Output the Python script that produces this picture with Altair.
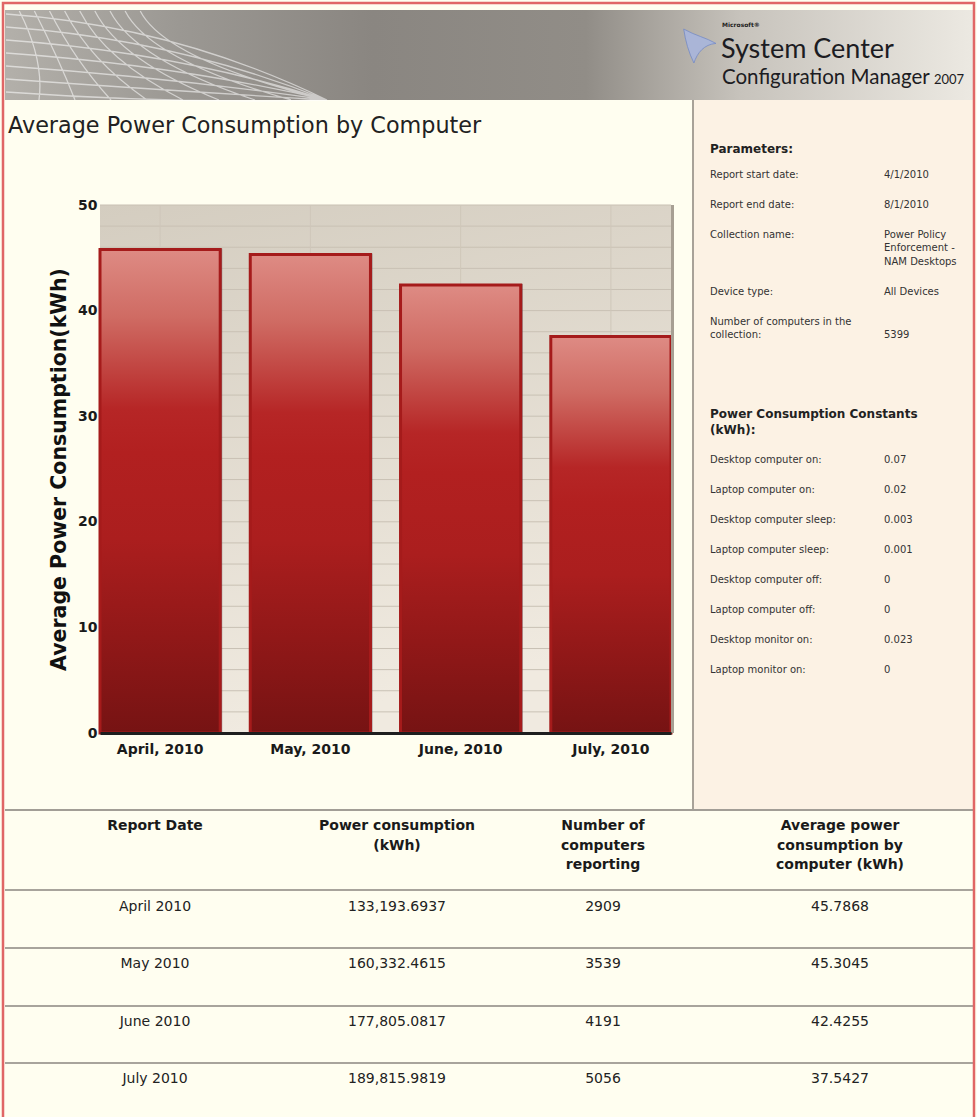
import altair as alt
import pandas as pd

# ---------------- data ----------------
months = ["April, 2010", "May, 2010", "June, 2010", "July, 2010"]
avg_kwh = [45.7868, 45.3045, 42.4255, 37.5427]

table_headers = ["Report Date", "Power consumption\n(kWh)", "Number of\ncomputers\nreporting",
                 "Average power\nconsumption by\ncomputer (kWh)"]
report_dates = ["April 2010", "May 2010", "June 2010", "July 2010"]
power_kwh = ["133,193.6937", "160,332.4615", "177,805.0817", "189,815.9819"]
computers = ["2909", "3539", "4191", "5056"]
avg_kwh_text = ["45.7868", "45.3045", "42.4255", "37.5427"]

param_labels = ["Report start date:", "Report end date:", "Collection name:", "Device type:",
                "Number of computers in the\ncollection:"]
param_values = ["4/1/2010", "8/1/2010", "Power Policy\nEnforcement -\nNAM Desktops", "All Devices", "\n5399"]
const_labels = ["Desktop computer on:", "Laptop computer on:", "Desktop computer sleep:",
                "Laptop computer sleep:", "Desktop computer off:", "Laptop computer off:",
                "Desktop monitor on:", "Laptop monitor on:"]
const_values = ["0.07", "0.02", "0.003", "0.001", "0", "0", "0.023", "0"]

# ---------------- layout ----------------
W, H = 977, 1117
PL, PT, PW, PH = 100, 205, 571, 528
FONT = "DejaVu Sans"
one = pd.DataFrame({"k": [0]})


def px(x):
    return x - PL


def py(y):
    return y - PT


def rect(x0, y0, x1, y1, **kw):
    return alt.Chart(one).mark_rect(**kw).encode(
        x=alt.value(px(x0)), x2=alt.value(px(x1)), y=alt.value(py(y0)), y2=alt.value(py(y1)))


def text(s, x, y, **kw):
    return alt.Chart(one).mark_text(text=s, **kw).encode(x=alt.value(px(x)), y=alt.value(py(y)))


def glyph(path, cx, cy, span, **kw):
    return alt.Chart(one).mark_point(shape=path, size=span * span, **kw).encode(
        x=alt.value(px(cx)), y=alt.value(py(cy)))


# decorative wire mesh of the banner (drawn as one symbol path)
MW, MH = 325.0, 90.0


def _u(a, b):
    return f"{(a - MW / 2) / (MW / 2):.4f} {(b - MH / 2) / (MW / 2):.4f}"


_mesh = []
for k in range(9):
    xb = 322 - 36 * k
    xe = max(xb * 0.42, 2)
    _mesh.append(f"M {_u(xb, 90)} Q {_u(xe + 25, 50)} {_u(xe, 1)}")
for j in range(7):
    y0 = 4 + 13 * j
    _mesh.append(f"M {_u(1, y0)} Q {_u(170, y0 + 12)} {_u(322, 90)}")
MESH = " ".join(_mesh)
ICON = "M -0.9 -1 C -0.2 -0.6 0.4 -0.5 1 -0.15 C 0.3 -0.1 -0.1 0.4 -0.3 1 C -0.6 0.4 -0.8 -0.3 -0.9 -1 Z"

header_grad = {"gradient": "linear", "x1": 0, "y1": 0, "x2": 1, "y2": 0,
               "stops": [{"offset": 0, "color": "#b3b0aa"}, {"offset": 0.18, "color": "#9b9893"},
                         {"offset": 0.38, "color": "#8a8681"}, {"offset": 0.6, "color": "#918d87"},
                         {"offset": 0.76, "color": "#c7c3bc"}, {"offset": 1, "color": "#ece9e2"}]}
plot_grad = {"gradient": "linear", "x1": 0, "y1": 0, "x2": 0.25, "y2": 1,
             "stops": [{"offset": 0, "color": "#d4cdc0"}, {"offset": 1, "color": "#f0eae0"}]}
bar_grad = {"gradient": "linear", "x1": 0, "y1": 0, "x2": 0, "y2": 1,
            "stops": [{"offset": 0, "color": "#de8b84"}, {"offset": 0.14, "color": "#cf6b63"},
                      {"offset": 0.33, "color": "#b62626"}, {"offset": 0.42, "color": "#b22020"},
                      {"offset": 0.6, "color": "#ab1e1e"}, {"offset": 0.8, "color": "#911818"},
                      {"offset": 1, "color": "#761313"}]}

# ---------------- page decoration ----------------
decor = [
    rect(5, 10, 973, 100, fill=header_grad),
    glyph(MESH, 5 + MW / 2, 10 + MH / 2, MW, filled=False, stroke="#ffffff", strokeWidth=1.3, opacity=0.55),
    rect(694, 100, 973, 809, fill="#fcf2e4"),
    rect(692, 100, 694, 809, fill="#a8a298"),
    rect(5, 809, 973, 811, fill="#a29e96"),
    rect(5, 889, 973, 891, fill="#a8a49c"),
    rect(5, 947, 973, 949, fill="#a8a49c"),
    rect(5, 1005, 973, 1007, fill="#a8a49c"),
    rect(5, 1062, 973, 1064, fill="#a8a49c"),
    rect(3, 3, 974, 1140, filled=False, stroke="#e06666", strokeWidth=2.5),
    glyph(ICON, 699, 46, 34, filled=True, fill="#a9b6dc", stroke="#6f86c8", strokeWidth=0.8, opacity=0.9),
    text("Microsoft®", 722, 25, align="left", baseline="middle", font=FONT, fontSize=6,
         fontWeight="bold", color="#222222"),
    text("System Center", 721, 58, align="left", baseline="alphabetic", font="Lato", fontSize=27,
         color="#1c1c22"),
    text("Configuration Manager", 722, 84, align="left", baseline="alphabetic", font="Lato", fontSize=20.5,
         color="#1c1c22"),
    text("2007", 934, 84, align="left", baseline="alphabetic", font="Lato", fontSize=13,
         color="#1c1c22"),
    text("Average Power Consumption by Computer", 8, 126, align="left", baseline="middle", font=FONT,
         fontSize=22.3, color="#222222"),
]

# ---------------- bar chart ----------------
bars_df = pd.DataFrame({"month": months, "avg": avg_kwh})
grid_df = pd.DataFrame({"avg": list(range(0, 51, 2))})

xs = alt.Scale(domain=months, paddingInner=0.2, paddingOuter=0)
ys = alt.Scale(domain=[0, 50], nice=False)
x_axis = alt.Axis(labelAngle=0, labelFont=FONT, labelFontSize=14, labelFontWeight="bold",
                  labelColor="#1a1a1a", ticks=False, labelPadding=9, domainColor="#1e1e1e",
                  domainWidth=3, grid=False, zindex=1)
y_axis = alt.Axis(values=[0, 10, 20, 30, 40, 50], labelFont=FONT, labelFontSize=14,
                  labelFontWeight="bold", labelColor="#1a1a1a", ticks=False, domain=False,
                  grid=False, labelPadding=3, titleFont=FONT, titleFontSize=20.5,
                  titleFontWeight="bold", titleColor="#111111", titlePadding=8)
YT = "Average Power Consumption(kWh)"


def xenc(**kw):
    return alt.X("month:N", scale=xs, sort=months, title=None, axis=x_axis, **kw)


def yenc():
    return alt.Y("avg:Q", scale=ys, title=YT, axis=y_axis)


plot_bg = alt.Chart(one).mark_rect(fill=plot_grad).encode(
    x=alt.value(0), x2=alt.value(PW), y=alt.value(0), y2=alt.value(PH))
hgrid = alt.Chart(grid_df).mark_rule(color="#c9c1b4", strokeWidth=1).encode(y=yenc())
vgrid = alt.Chart(bars_df).mark_rule(color="#cfc7ba", strokeWidth=1).encode(x=xenc(bandPosition=0.5))
shadow = alt.Chart(bars_df).mark_bar(fill="#4a3848", opacity=0.55, xOffset=2, yOffset=-1).encode(
    x=xenc(), y=yenc())
bars = alt.Chart(bars_df).mark_bar(fill=bar_grad, stroke="#a51b1b", strokeWidth=3).encode(
    x=xenc(), y=yenc())
edge = alt.Chart(one).mark_rule(color="#a79f93", strokeWidth=3).encode(
    x=alt.value(PW + 1.5), y=alt.value(0), y2=alt.value(PH))

main = alt.layer(plot_bg, hgrid, vgrid, shadow, bars, edge)

# ---------------- side panel ----------------
ROW, LINE = 30.0, 13.3


def slots(labels, values):
    out, extra = [], 0
    for i, (l, v) in enumerate(zip(labels, values)):
        out.append(i + extra * LINE / ROW)
        extra += max(l.count("\n"), v.count("\n"))
    return out


def panel_layer(labels, values, top):
    df = pd.DataFrame({"label": labels, "value": values, "slot": slots(labels, values)})
    yenc_p = alt.Y("slot:Q", scale=alt.Scale(domain=[0, 1], range=[py(top), py(top + ROW)]), axis=None)
    lab = alt.Chart(df).mark_text(align="left", baseline="top", font=FONT, fontSize=10, color="#333333",
                                  lineBreak="\n", lineHeight=LINE).encode(
        x=alt.value(px(710)), y=yenc_p, text="label:N")
    val = alt.Chart(df).mark_text(align="left", baseline="top", font=FONT, fontSize=10, color="#333333",
                                  lineBreak="\n", lineHeight=LINE).encode(
        x=alt.value(px(884)), y=yenc_p, text="value:N")
    return [lab, val]


panel = [
    text("Parameters:", 710, 149, align="left", baseline="middle", font=FONT, fontSize=12,
         fontWeight="bold", color="#222222"),
    text("Power Consumption Constants\n(kWh):", 710, 409, align="left", baseline="top", font=FONT,
         fontSize=12, fontWeight="bold", color="#222222", lineBreak="\n", lineHeight=16),
] + panel_layer(param_labels, param_values, 170) + panel_layer(const_labels, const_values, 455)

# ---------------- table ----------------
col_x = [155, 397, 603, 840]
columns = [report_dates, power_kwh, computers, avg_kwh_text]
table = []
for cx, head, vals in zip(col_x, table_headers, columns):
    table.append(text(head, cx, 819, align="center", baseline="top", font=FONT, fontSize=14,
                      fontWeight="bold", color="#1a1a1a", lineBreak="\n", lineHeight=19.5))
    cdf = pd.DataFrame({"row": list(range(len(vals))), "v": vals})
    table.append(alt.Chart(cdf).mark_text(align="center", baseline="middle", font=FONT, fontSize=14,
                                          color="#222222").encode(
        x=alt.value(px(cx)),
        y=alt.Y("row:Q", scale=alt.Scale(domain=[0, 3], range=[py(907), py(1079)]), axis=None),
        text="v:N"))

chart = alt.layer(*decor, main, *panel, *table).resolve_scale(x="independent", y="independent").properties(
    width=PW, height=PH,
    padding={"left": PL, "top": PT, "right": W - PL - PW, "bottom": H - PT - PH},
    autosize=alt.AutoSizeParams(type="none"),
).configure(background="#fffef0").configure_view(stroke=None)

chart.save("out.html", embed_options={"renderer": "svg", "actions": False})
